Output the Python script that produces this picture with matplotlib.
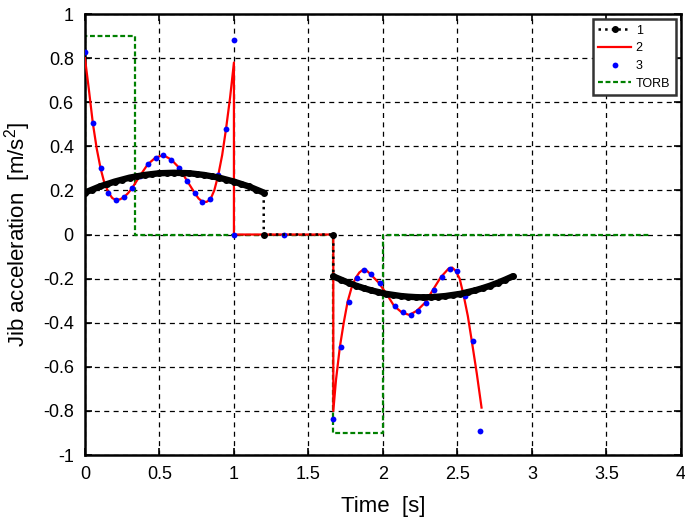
#!/usr/bin/env python3

"""
Jib acceleration vs time: reference, fitted, sampled and TORB profiles.
"""

import matplotlib

matplotlib.use("Agg")
import matplotlib.pyplot as plt

plt.rcParams["font.family"] = ["Liberation Sans", "DejaVu Sans"]
plt.rcParams["mathtext.fontset"] = "custom"
plt.rcParams["mathtext.rm"] = "Liberation Sans"
plt.rcParams["mathtext.it"] = "Liberation Sans:italic"
plt.rcParams["xtick.labelsize"] = 13
plt.rcParams["ytick.labelsize"] = 13
plt.rcParams["axes.labelsize"] = 16

# series 1: black dotted with dense markers
s1_x = [0.0, 0.05, 0.1, 0.15, 0.2, 0.25, 0.3, 0.35, 0.4, 0.45, 0.5, 0.55, 0.6,
        0.65, 0.7, 0.75, 0.8, 0.85, 0.9, 0.95, 1.0, 1.05, 1.1, 1.15, 1.2,
        1.2, 1.667,
        1.667, 1.72, 1.77, 1.82, 1.87, 1.92, 1.97, 2.02, 2.07, 2.12, 2.17, 2.22,
        2.27, 2.32, 2.37, 2.42, 2.47, 2.52, 2.57, 2.62, 2.67, 2.72, 2.77, 2.82,
        2.87]
s1_y = [0.19, 0.204, 0.218, 0.229, 0.24, 0.249, 0.258, 0.264, 0.27, 0.274,
        0.278, 0.279, 0.28, 0.279, 0.278, 0.274, 0.27, 0.264, 0.258, 0.249,
        0.24, 0.229, 0.218, 0.204, 0.19,
        0.0, 0.0,
        -0.19, -0.205, -0.219, -0.232, -0.243, -0.253, -0.261, -0.269, -0.274,
        -0.279, -0.282, -0.284, -0.285, -0.284, -0.282, -0.279, -0.274, -0.269,
        -0.261, -0.253, -0.243, -0.232, -0.219, -0.205, -0.19]

# series 2: red fitted curve
s2_x = [0.0, 0.026, 0.053, 0.079, 0.105, 0.13, 0.158, 0.184, 0.211, 0.237,
        0.263, 0.29, 0.316, 0.368, 0.421, 0.474, 0.526, 0.579, 0.632, 0.684,
        0.737, 0.763, 0.789, 0.816, 0.842, 0.868, 0.895, 0.921, 0.947, 0.974,
        1.0, 1.0, 1.667, 1.667,
        1.685, 1.711, 1.737, 1.763, 1.79, 1.817, 1.842, 1.866, 1.89, 1.915,
        1.971, 2.025, 2.075, 2.126, 2.178, 2.229, 2.283, 2.334, 2.388, 2.44,
        2.465, 2.489, 2.515, 2.543, 2.57, 2.597, 2.63, 2.662]
s2_y = [0.80, 0.66, 0.505, 0.39, 0.30, 0.235, 0.19, 0.165, 0.156, 0.16,
        0.17, 0.188, 0.21, 0.265, 0.318, 0.349, 0.36, 0.34, 0.303, 0.245,
        0.188, 0.163, 0.149, 0.148, 0.159, 0.2, 0.27, 0.36, 0.479, 0.62,
        0.78, 0.0, 0.0, -0.80,
        -0.66, -0.51, -0.40, -0.305, -0.24, -0.197, -0.172, -0.16, -0.163,
        -0.179, -0.218, -0.27, -0.324, -0.353, -0.365, -0.345, -0.309, -0.253,
        -0.194, -0.155, -0.15, -0.165, -0.2, -0.28, -0.37, -0.485, -0.63,
        -0.785]

# series 3: blue samples
s3_x = [0.0, 0.053, 0.105, 0.158, 0.211, 0.263, 0.316, 0.368, 0.421, 0.474,
        0.526, 0.579, 0.632, 0.684, 0.737, 0.789, 0.842, 0.895, 0.947, 1.0,
        1.0, 1.333,
        1.667, 1.719, 1.771, 1.825, 1.874, 1.923, 1.979, 2.031, 2.083, 2.134,
        2.186, 2.237, 2.291, 2.342, 2.396, 2.448, 2.497, 2.551, 2.605, 2.654]
s3_y = [0.83, 0.505, 0.30, 0.19, 0.156, 0.17, 0.21, 0.265, 0.318, 0.349,
        0.36, 0.34, 0.303, 0.245, 0.188, 0.149, 0.159, 0.27, 0.479, 0.88,
        0.0, 0.0,
        -0.838, -0.51, -0.305, -0.197, -0.16, -0.179, -0.218, -0.27, -0.324,
        -0.353, -0.365, -0.345, -0.309, -0.253, -0.194, -0.155, -0.165,
        -0.28, -0.485, -0.891]

# TORB step profile
torb_x = [0.0, 0.0, 0.333, 0.333, 1.667, 1.667, 2.0, 2.0, 3.8]
torb_y = [0.0, 0.9, 0.9, 0.0, 0.0, -0.9, -0.9, 0.0, 0.0]

x_ticks = [0, 0.5, 1, 1.5, 2, 2.5, 3, 3.5, 4]
x_tick_labels = ["0", "0.5", "1", "1.5", "2", "2.5", "3", "3.5", "4"]
y_ticks = [-1, -0.8, -0.6, -0.4, -0.2, 0, 0.2, 0.4, 0.6, 0.8, 1]
y_tick_labels = ["-1", "-0.8", "-0.6", "-0.4", "-0.2", "0", "0.2", "0.4",
                 "0.6", "0.8", "1"]

# index ranges of the two smooth arcs inside series 1
arc_a = slice(0, 25)
arc_b = slice(27, None)


def main():
    fig = plt.figure(figsize=(6.85, 5.2), dpi=100)
    ax = fig.add_axes([0.124, 0.125, 0.870, 0.848])

    ax.plot(s2_x, s2_y, "-", color="#ff0000", linewidth=1.6, label="2", zorder=3)
    ax.plot(s3_x, s3_y, "o", color="#0000ff", markersize=4.2,
            markeredgewidth=0, linestyle="none", label="3", zorder=4)
    ax.plot(torb_x, torb_y, color="#008000", linewidth=1.6,
            linestyle=(0, (2.2, 1.2)), label="TORB", zorder=2)
    ax.plot(s1_x, s1_y, color="black", linestyle=":", linewidth=1.8,
            marker="o", markersize=4, label="1", zorder=5)
    # dense markers on the arcs merge into a thick band
    for part in (arc_a, arc_b):
        ax.plot(s1_x[part], s1_y[part], color="black", linewidth=4.6,
                solid_capstyle="round", zorder=5)

    ax.set_xlim(0, 4)
    ax.set_ylim(-1, 1)
    ax.set_xticks(x_ticks)
    ax.set_xticklabels(x_tick_labels)
    ax.set_yticks(y_ticks)
    ax.set_yticklabels(y_tick_labels)
    ax.tick_params(direction="in", top=True, right=True, length=5, width=1.2,
                   pad=8)
    ax.grid(True, color="black", linestyle=(0, (4, 3.5)), linewidth=0.9)
    for spine in ax.spines.values():
        spine.set_linewidth(1.8)

    ax.set_xlabel("Time  [s]", labelpad=9)
    ax.set_ylabel("Jib acceleration  [m/s$^{2}$]", labelpad=7)

    handles, labels = ax.get_legend_handles_labels()
    order = [labels.index(k) for k in ["1", "2", "3", "TORB"]]
    leg = ax.legend([handles[i] for i in order], [labels[i] for i in order],
                    loc="upper right", fontsize=9, fancybox=False,
                    framealpha=1, edgecolor="#333333", handlelength=2.6,
                    borderaxespad=0.4, labelspacing=0.45, handletextpad=0.4,
                    borderpad=0.45)
    leg.get_frame().set_linewidth(1.8)

    fig.savefig("out.png", dpi=100)
    plt.close(fig)


if __name__ == "__main__":
    main()
